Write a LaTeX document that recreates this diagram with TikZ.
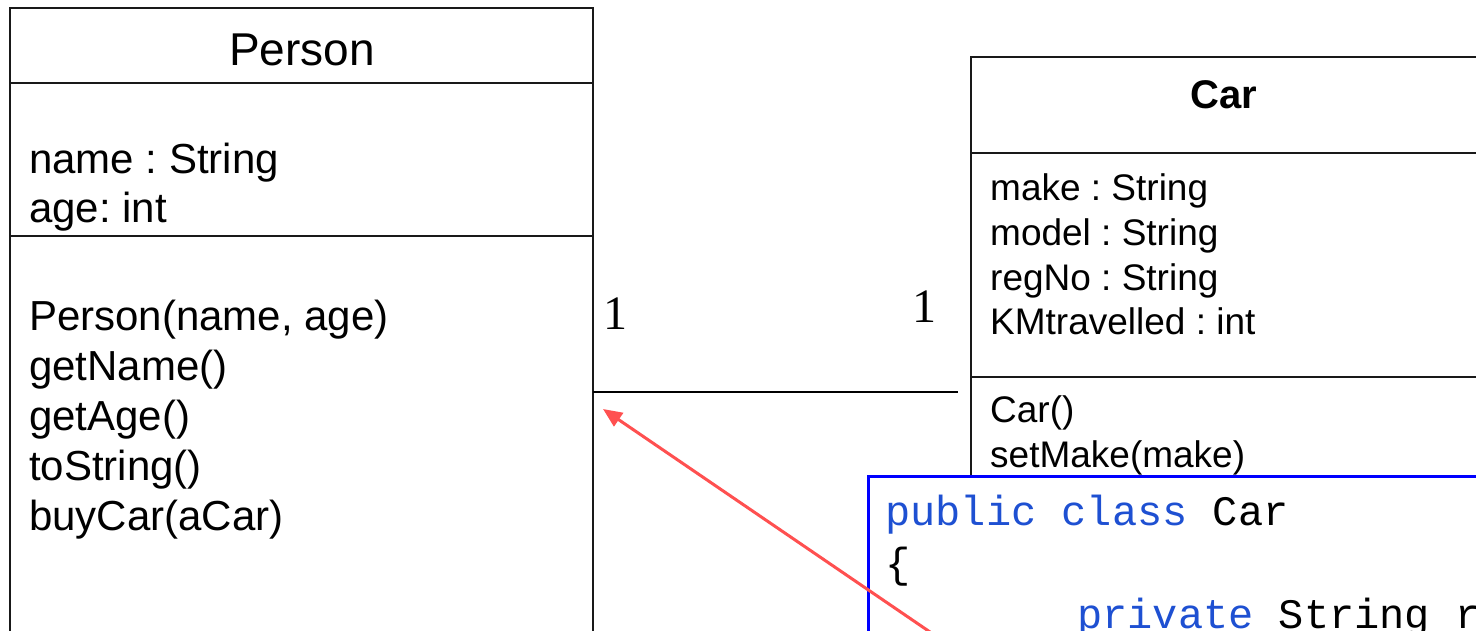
\documentclass[tikz,border=0pt]{standalone}
\usepackage{fontspec}
\setmainfont{Liberation Sans}
\newfontfamily\numfont{Liberation Serif}
\newfontfamily\codefont{Liberation Mono}
\usetikzlibrary{arrows.meta}
\definecolor{kwblue}{RGB}{30,80,210}
\definecolor{boxblue}{RGB}{0,0,255}
\definecolor{arrowred}{RGB}{255,80,80}
\definecolor{linegray}{RGB}{25,25,25}
\frenchspacing
\begin{document}
\begin{tikzpicture}[x=1pt,y=-1pt,
  classbox/.style={draw=linegray, line width=2pt, fill=white, inner sep=0pt, outer sep=0pt, anchor=north west},
  divider/.style={draw=linegray, line width=2pt},
  ptitle/.style={anchor=base, inner sep=0pt, font=\fontsize{46}{55}\selectfont},
  ctitle/.style={anchor=base, inner sep=0pt, font=\fontsize{40}{48}\selectfont\bfseries},
  ptext/.style={anchor=base west, inner sep=0pt, font=\fontsize{42}{50}\selectfont},
  ctext/.style={anchor=base west, inner sep=0pt, font=\fontsize{37}{45}\selectfont},
  mult/.style={anchor=base west, inner sep=0pt, font=\fontsize{48}{56}\numfont},
  codebox/.style={draw=boxblue, line width=3pt, fill=white, inner sep=0pt, outer sep=0pt, anchor=north west},
  code/.style={anchor=base west, inner sep=0pt, font=\fontsize{42}{52}\codefont},
  assoc/.style={draw=black, line width=2pt},
  pointer/.style={draw=arrowred, line width=3pt, -{Triangle[length=19pt,width=16pt]}}
]
\useasboundingbox (0,0) rectangle (1476,630);
\fill[white] (0,0) rectangle (1476,630);
\clip (0,0) rectangle (1476,630);

% Person class
\node[classbox, minimum width=583pt, minimum height=700pt] (person) at (10,8) {};
\draw[divider] (person.west |- 0,83) -- (person.east |- 0,83);
\draw[divider] (person.west |- 0,236) -- (person.east |- 0,236);
\node[ptitle] (ptitle) at (302,65) {Person};
\node[ptext] (pa1) at (29,173) {name : String};
\node[ptext] (pa2) at (29,222) {age: int};
\node[ptext] (pm1) at (29,330) {Person(name, age)};
\node[ptext] (pm2) at (29,380) {getName()};
\node[ptext] (pm3) at (29,430) {getAge()};
\node[ptext] (pm4) at (29,480) {toString()};
\node[ptext] (pm5) at (29,530) {buyCar(aCar)};

% Car class
\node[classbox, minimum width=600pt, minimum height=700pt] (car) at (971,57) {};
\draw[divider] (car.west |- 0,153) -- (car.east |- 0,153);
\draw[divider] (car.west |- 0,377) -- (car.east |- 0,377);
\node[ctitle] (ctitle) at (1224,108) {Car};
\node[ctext] (ca1) at (990,200) {make : String};
\node[ctext] (ca2) at (990,245) {model : String};
\node[ctext] (ca3) at (990,290) {regNo : String};
\node[ctext] (ca4) at (990,334) {KMtravelled : int};
\node[ctext] (cm1) at (990,422) {Car()};
\node[ctext] (cm2) at (990,467) {setMake(make)};

% association
\coordinate (assocR) at (958,392);
\draw[assoc] (person.east |- assocR) -- (assocR);
\node[mult] (m1) at (603,329) {1};
\node[mult] (m2) at (912,322) {1};

% code box
\node[codebox, minimum width=640pt, minimum height=230pt] (cbox) at (868,476) {};
\node[code] (c1) at (885,525) {\textcolor{kwblue}{public class} Car};
\node[code] (c2) at (885,577) {\{};
\node[code] (c3) at (1077,628) {\textcolor{kwblue}{private} String r};

% pointer arrow
\coordinate (ptail) at (930,632);
\coordinate (ptip) at (603,409);
\draw[pointer] (ptail) -- (ptip);
\end{tikzpicture}
\end{document}
